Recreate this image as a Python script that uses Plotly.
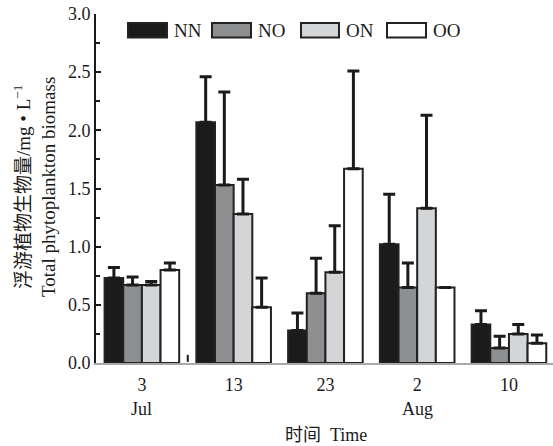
import plotly.graph_objects as go

dates = ["3", "13", "23", "2", "10"]
months = ["Jul", "", "", "Aug", ""]
series = ["NN", "NO", "ON", "OO"]

nn = [0.73, 2.07, 0.28, 1.02, 0.33]
no = [0.67, 1.53, 0.60, 0.65, 0.13]
on = [0.67, 1.28, 0.78, 1.33, 0.25]
oo = [0.80, 0.48, 1.67, 0.65, 0.17]

nn_err = [0.09, 0.39, 0.15, 0.43, 0.12]
no_err = [0.07, 0.80, 0.30, 0.21, 0.10]
on_err = [0.03, 0.30, 0.40, 0.80, 0.08]
oo_err = [0.06, 0.25, 0.84, None, 0.07]

values = [nn, no, on, oo]
errors = [nn_err, no_err, on_err, oo_err]
colors = ["#1b1b1b", "#8e8f91", "#d4d5d7", "#ffffff"]

FONT = "Liberation Serif, Noto Sans CJK SC, serif"
W, H = 553, 446
L, R, T, B = 96, 0, 14, 83
PW, PH = W - L - R, H - T - B

def px2x(px):
    return (px - L) / PW

def py2y(py):
    return (H - B - py) / PH

fig = go.Figure()
xs = list(range(len(dates)))
for name, v, e, c in zip(series, values, errors, colors):
    fig.add_trace(go.Bar(
        x=xs, y=v, name=name,
        marker=dict(color=c, line=dict(color="#222222", width=2)),
        error_y=dict(type="data", array=e, arrayminus=[0] * len(e), symmetric=False,
                     color="#1b1b1b", thickness=3, width=6),
        showlegend=False,
    ))

# manual legend
leg_boxes = [(128, 167), (212, 251), (301, 339), (387, 426)]
shapes = []
annotations = []
for (x0, x1), name, c in zip(leg_boxes, series, colors):
    shapes.append(dict(type="rect", xref="paper", yref="paper",
                       x0=px2x(x0), x1=px2x(x1), y0=py2y(37.5), y1=py2y(23),
                       fillcolor=c, line=dict(color="#222222", width=2)))
    annotations.append(dict(text=name, xref="paper", yref="paper",
                            x=px2x(x1 + 5), y=py2y(30), xanchor="left", yanchor="middle",
                            showarrow=False, font=dict(family=FONT, size=19, color="#1a1a1a")))

# break marker on x axis
shapes.append(dict(type="line", xref="x", yref="y", x0=0.5, x1=0.5, y0=0.01, y1=0.07,
                   line=dict(color="#1a1a1a", width=2)))

# month labels under the day ticks
for i, m in enumerate(months):
    if m:
        annotations.append(dict(text=m, xref="x", yref="paper", x=xs[i], y=py2y(409),
                                xanchor="center", yanchor="middle", showarrow=False,
                                font=dict(family=FONT, size=18, color="#1a1a1a")))

annotations.append(dict(text="浮游植物生物量/mg • L<sup>−1</sup><br>Total phytoplankton biomass",
                        xref="paper", yref="paper", x=px2x(34), y=py2y(187),
                        xanchor="center", yanchor="middle", textangle=-90, showarrow=False,
                        font=dict(family=FONT, size=19, color="#1a1a1a")))
annotations.append(dict(text="时间  Time", xref="paper", yref="paper", x=px2x(326), y=py2y(435),
                        xanchor="center", yanchor="middle", showarrow=False,
                        font=dict(family=FONT, size=18, color="#1a1a1a")))

fig.update_layout(
    width=W, height=H,
    margin=dict(l=L, r=R, t=T, b=B, pad=0),
    paper_bgcolor="white", plot_bgcolor="white",
    barmode="group", bargap=0.187, bargroupgap=0,
    shapes=shapes, annotations=annotations,
    font=dict(family=FONT, size=18, color="#1a1a1a"),
)
fig.update_xaxes(
    range=[-0.5, 4.48], tickmode="array", tickvals=xs, ticktext=dates,
    showline=True, linecolor="#a8a8a8", linewidth=2, ticks="", showgrid=False,
    zeroline=False, ticklabelstandoff=4, tickfont=dict(family=FONT, size=18, color="#1a1a1a"),
)
fig.update_yaxes(
    range=[0, 3.0], dtick=0.5, tickformat=".1f", showline=True, linecolor="#1a1a1a",
    linewidth=2, ticks="inside", ticklen=5, tickwidth=2, tickcolor="#1a1a1a",
    minor=dict(dtick=0.25, ticks="inside", ticklen=4, tickwidth=2, tickcolor="#1a1a1a"),
    showgrid=False, zeroline=False, tickfont=dict(family=FONT, size=18, color="#1a1a1a"),
)

fig.write_html("out.html")
